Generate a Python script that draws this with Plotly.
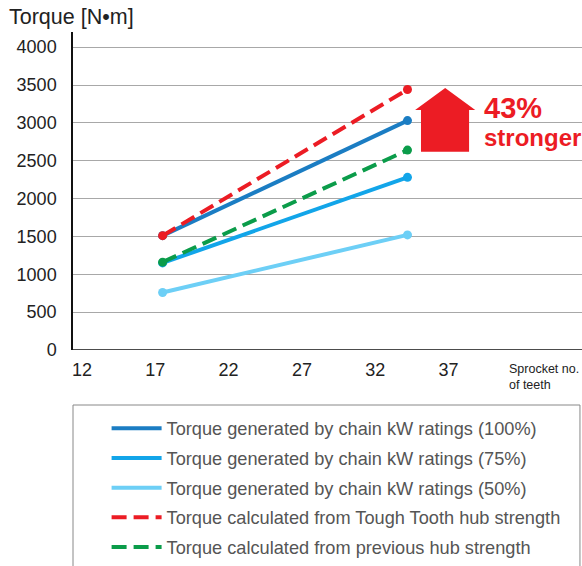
import plotly.graph_objects as go

# sprocket teeth (x) and torque values [N·m]
teeth = [17.5, 34.2]
chain_100 = [1510, 3030]
chain_75 = [1150, 2280]
chain_50 = [760, 1520]
tough_tooth = [1510, 3440]
previous_hub = [1160, 2640]

x_ticks = [12, 17, 22, 27, 32, 37]
y_ticks = [0, 500, 1000, 1500, 2000, 2500, 3000, 3500, 4000]

COLORS = {
    "c100": "#1B7DC3",
    "c75": "#12A5E9",
    "c50": "#6DCFF6",
    "red": "#EC1C24",
    "green": "#0B9C4A",
    "text": "#222222",
    "legend": "#555555",
    "grid": "#A8A8A8",
}

series = [
    ("Torque generated by chain kW ratings (100%)", chain_100, COLORS["c100"], "solid"),
    ("Torque generated by chain kW ratings (75%)", chain_75, COLORS["c75"], "solid"),
    ("Torque generated by chain kW ratings (50%)", chain_50, COLORS["c50"], "solid"),
    ("Torque calculated from Tough Tooth hub strength", tough_tooth, COLORS["red"], "15px,7px"),
    ("Torque calculated from previous hub strength", previous_hub, COLORS["green"], "15px,7px"),
]

FONT = "Liberation Sans, Arial, sans-serif"

fig = go.Figure()
# draw order: light ones first, red/green dashed on top
order = [2, 1, 0, 4, 3]
for i in order:
    name, vals, color, dash = series[i]
    fig.add_trace(go.Scatter(
        x=teeth, y=vals, mode="lines",
        line=dict(color=color, width=4, dash=dash),
        name=name, legendrank=i + 1, legendgroup=f"g{i}",
        showlegend=True,
    ))
    fig.add_trace(go.Scatter(
        x=teeth, y=vals, mode="markers",
        marker=dict(color=color, size=9),
        showlegend=False, hoverinfo="skip",
    ))

# red "stronger" arrow
arrow = "M 35.12 3170 L 34.72 3170 L 36.77 3460 L 38.82 3170 L 38.40 3170 L 38.40 2620 L 35.12 2620 Z"
fig.add_shape(type="path", path=arrow, xref="x", yref="y",
              fillcolor=COLORS["red"], line=dict(width=0))

fig.add_annotation(x=39.3, y=3200, xref="x", yref="y", text="<b>43%</b>",
                   showarrow=False, xanchor="left", yanchor="middle",
                   font=dict(family=FONT, size=29, color=COLORS["red"]))
fig.add_annotation(x=39.3, y=2810, xref="x", yref="y", text="<b>stronger</b>",
                   showarrow=False, xanchor="left", yanchor="middle",
                   font=dict(family=FONT, size=24, color=COLORS["red"]))

# axis titles
fig.add_annotation(x=-0.13, y=1.09, xref="paper", yref="paper", text="Torque [N•m]",
                   showarrow=False, xanchor="left", yanchor="top",
                   font=dict(family=FONT, size=21.5, color=COLORS["text"]))
fig.add_annotation(x=0.852, y=-0.033, xref="paper", yref="paper",
                   text="Sprocket no.<br>of teeth", align="left",
                   showarrow=False, xanchor="left", yanchor="top",
                   font=dict(family=FONT, size=12.5, color=COLORS["text"]))

# legend box
fig.add_shape(type="rect", xref="paper", yref="paper",
              x0=0.0, x1=0.996, y0=-0.78, y1=-0.173,
              line=dict(color="#888888", width=1), fillcolor="rgba(0,0,0,0)")

fig.update_layout(
    width=582, height=566,
    paper_bgcolor="white", plot_bgcolor="white",
    margin=dict(l=73, r=0, t=32, b=216),
    font=dict(family=FONT, color=COLORS["text"], size=16),
    xaxis=dict(
        range=[11.39, 46.1], tickvals=x_ticks, showgrid=False, zeroline=False,
        showline=False, ticks="", ticklabelstandoff=7, automargin=False,
        tickfont=dict(size=18, color=COLORS["text"]),
    ),
    yaxis=dict(
        range=[0, 4200], tickvals=y_ticks, showgrid=True, gridcolor=COLORS["grid"],
        gridwidth=1.3, zeroline=False, showline=True, linecolor="#111111", linewidth=1.5,
        ticks="", ticklabelstandoff=11, automargin=False,
        tickfont=dict(size=18, color=COLORS["text"]),
    ),
    showlegend=True,
    legend=dict(
        x=0.066, y=-0.19, xanchor="left", yanchor="top",
        bgcolor="rgba(0,0,0,0)", borderwidth=0,
        font=dict(family=FONT, size=18.2, color=COLORS["legend"]),
        tracegroupgap=3, itemwidth=50,
    ),
)
# x axis baseline at y=0
fig.add_shape(type="line", xref="paper", yref="y", x0=0, x1=1, y0=0, y1=0,
              line=dict(color="#111111", width=1.5))

# the browser's default 8px body margin would offset the figure
fig.write_html("out.html", config={"displayModeBar": False},
               post_script="document.body.style.margin='0';")
